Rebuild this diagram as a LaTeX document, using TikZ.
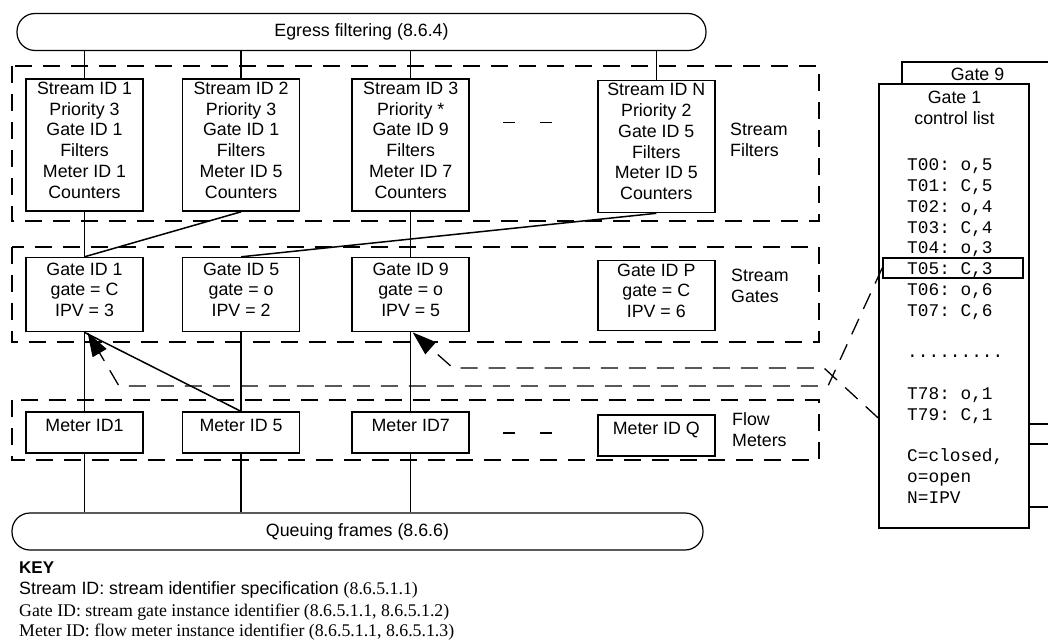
\documentclass[tikz,border=0pt]{standalone}
\usepackage{fontspec}
\setmainfont{Liberation Sans}
\setmonofont{Liberation Mono}
\newfontfamily\keyserif{Liberation Serif}
\usetikzlibrary{positioning, arrows.meta}
\tikzset{
  every node/.style={font=\fontsize{17.8}{20.8}\selectfont},
  idbox/.style={draw, line width=1.6pt, minimum width=117pt, align=center, inner sep=0pt,
                text depth=10pt},
  meterbox/.style={draw, line width=1.6pt, minimum width=117pt, inner xsep=0pt,
                   inner ysep=4pt, text height=15pt, text depth=18pt},
  bar/.style={draw, line width=1.2pt, rounded corners=18pt, minimum height=37pt, inner sep=0pt},
  group/.style={line width=1.5pt, dash pattern=on 17pt off 11pt},
  wire/.style={line width=1.5pt},
  tag/.style={line width=1.3pt, dash pattern=on 17pt off 11pt,
              -{Triangle[length=24pt, width=16pt]}},
  grouplabel/.style={anchor=west, align=left, inner sep=0pt},
  keyline/.style={anchor=base west, inner sep=0pt},
}

\begin{document}
\begin{tikzpicture}[x=1pt, y=-1pt]
  \useasboundingbox (0,0) rectangle (1048,639);

  \node[bar, minimum width=689pt] (egress) at (361.5,32) {Egress filtering (8.6.4)};
  \node[bar, minimum width=691pt] (queue)  at (357.5,531.5) {Queuing frames (8.6.6)};

  \node[idbox, minimum height=132pt] (sid1) at (84.5,145)
    {Stream ID 1\\Priority 3\\Gate ID 1\\Filters\\Meter ID 1\\Counters};
  \node[idbox, minimum height=132pt, right=38pt of sid1] (sid2)
    {Stream ID 2\\Priority 3\\Gate ID 1\\Filters\\Meter ID 5\\Counters};
  \node[idbox, minimum height=132pt, right=51pt of sid2] (sid3)
    {Stream ID 3\\Priority *\\Gate ID 9\\Filters\\Meter ID 7\\Counters};
  \node[idbox, minimum height=132pt, right=127pt of sid3, yshift=-1.5pt] (sidN)
    {Stream ID N\\Priority 2\\Gate ID 5\\Filters\\Meter ID 5\\Counters};

  \node[idbox, minimum height=74pt, below=45pt of sid1] (gid1) {Gate ID 1\\gate = C\\IPV = 3};
  \node[idbox, minimum height=74pt, below=45pt of sid2] (gid5) {Gate ID 5\\gate = o\\IPV = 2};
  \node[idbox, minimum height=74pt, below=45pt of sid3] (gid9) {Gate ID 9\\gate = o\\IPV = 5};
  \node[idbox, minimum height=70pt, below=46.5pt of sidN] (gidP) {Gate ID P\\gate = C\\IPV = 6};

  \node[meterbox, below=79pt of gid1] (mid1) {Meter ID1};
  \node[meterbox, below=79pt of gid5] (mid5) {Meter ID 5};
  \node[meterbox, below=79pt of gid9] (mid7) {Meter ID7};
  \node[meterbox, below=83pt of gidP] (midQ) {Meter ID Q};

  \draw[group] (12,66) rectangle (819,221);
  \draw[group] (12,247) rectangle (819,342);
  \draw[group] (12,400) rectangle (819,460);
  \node[grouplabel] (lblfilters) at (730,139.5) {Stream\\Filters};
  \node[grouplabel] (lblgates)   at (731,286)   {Stream\\Gates};
  \node[grouplabel] (lblmeters)  at (732,430)   {Flow\\Meters};

  \draw[line width=1.5pt, dash pattern=on 12pt off 25pt] (503,122.5) -- (552,122.5);
  \draw[line width=1.5pt, dash pattern=on 12pt off 25pt] (503,433) -- (552,433);

  \foreach \s in {sid1, sid2, sid3, sidN}
    \draw[wire] (\s.north) -- (\s.north |- egress.south);
  \draw[wire] (sid1.south) -- (gid1.north);
  \draw[wire] (sid2.south) -- (gid1.north);
  \draw[wire] (sid3.south) -- (gid9.north);
  \draw[wire] (sidN.south) -- (gid5.north);
  \draw[wire] (gid1.south) -- (mid1.north);
  \draw[wire] (gid1.south) -- (mid5.north);
  \draw[wire] (gid5.south) -- (mid5.north);
  \draw[wire] (gid9.south) -- (mid7.north);
  \foreach \m in {mid1, mid5, mid7}
    \draw[wire] (\m.south) -- (\m.south |- queue.north);

  \begin{scope}
    \clip (0,0) rectangle (1048,639);
    \draw[line width=1.6pt] (902,507) rectangle (1070,62);
    \draw[line width=1.6pt] (1029,424) -- (1070,424);
    \draw[line width=1.6pt] (1029,444) -- (1070,444);
  \end{scope}
  \node[inner sep=0pt] (g9title) at (977.5,74) {Gate 9};
  \node[draw, fill=white, line width=1.6pt, minimum width=150pt, minimum height=444pt,
        inner sep=0pt] (g1list) at (954,306) {};
  \node[anchor=north, inner sep=0pt, align=center] (g1title) at (954.5,91) {Gate 1\\control list};
  \node[anchor=north west, inner sep=0pt, align=left, font=\fontsize{17.8}{20.8}\ttfamily]
    (g1rows) at (907,158.5)
    {T00: o,5\\T01: C,5\\T02: o,4\\T03: C,4\\T04: o,3\\T05: C,3\\T06: o,6\\T07: C,6\\[20.8pt]
     .........\\[20.8pt]
     T78: o,1\\T79: C,1\\[20.8pt]
     C=closed,\\o=open\\N=IPV};
  \node[draw, line width=1.6pt, minimum width=140pt, minimum height=20pt, inner sep=0pt]
    (t05) at (953,268) {};

  \coordinate (bend1) at (828,386);
  \coordinate (turn1) at (119,386);
  \draw[tag] (t05.west) -- (bend1) -- (turn1) -- ([xshift=3pt]gid1.south);
  \coordinate (g9in)  at (g1list.west |- 0,418);
  \coordinate (bend9) at (824,368);
  \coordinate (turn9) at (453,368);
  \draw[tag] (g9in) -- (bend9) -- (turn9) -- ([xshift=2pt]gid9.south);

  \node[keyline, font=\fontsize{17}{20}\selectfont\bfseries] (keyhead) at (19,573.5) {KEY};
  \node[keyline] (key1) at (19,594.5)
    {Stream ID: stream identifier specification {\keyserif (8.6.5.1.1)}};
  \node[keyline, font=\fontsize{17.8}{20.8}\keyserif] (key2) at (19,616)
    {Gate ID: stream gate instance identifier (8.6.5.1.1, 8.6.5.1.2)};
  \node[keyline, font=\fontsize{17.8}{20.8}\keyserif] (key3) at (19,636.5)
    {Meter ID: flow meter instance identifier (8.6.5.1.1, 8.6.5.1.3)};
\end{tikzpicture}
\end{document}
